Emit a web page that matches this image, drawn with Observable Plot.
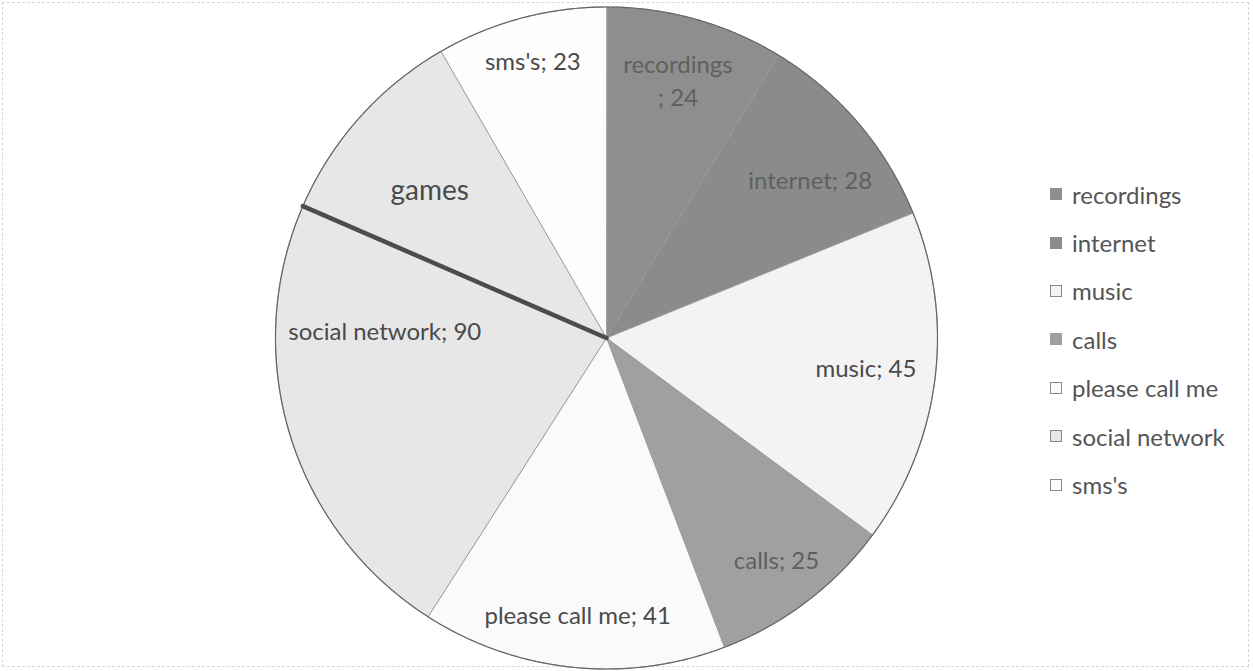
<!DOCTYPE html>
<html>
<head>
<meta charset="utf-8">
<script src="https://cdn.jsdelivr.net/npm/d3@7"></script>
<script src="https://cdn.jsdelivr.net/npm/@observablehq/plot@0.6"></script>
<style>
  html, body { margin: 0; padding: 0; background: #fff; }
  #wrap { position: relative; width: 1253px; height: 671px; overflow: hidden; font-family: Lato, "Open Sans", sans-serif; }
  #wrap svg { position: absolute; left: 0; top: 0; }
  #border { position: absolute; left: 2px; top: 2px; width: 1247px; height: 665px; border: 1px dashed #d6d6d6; box-sizing: border-box; }
  #legend { position: absolute; left: 1050px; top: 170px; }
  .item { height: 48.4px; display: flex; align-items: center; font-size: 24px; color: #555; white-space: nowrap; }
  .sw { width: 12px; height: 12px; border: 1px solid #8a8a8a; margin-right: 10px; flex: none; box-sizing: border-box; }
</style>
</head>
<body>
<div id="wrap"><div id="border"></div><div id="legend"></div></div>
<script>
// ---- data ----
const categories = ["recordings", "internet", "music", "calls", "please call me", "social network", "sms's"];
const values = [24, 28, 45, 25, 41, 90, 23];
// A hand-drawn line splits the end of the "social network" slice and marks it "games" (no value printed; estimated)
const splitLabel = "games";
const splitValue = 28;

// ---- styles / layout ----
const sliceColors = ["#8e8e8e", "#8b8b8b", "#f3f3f3", "#a0a0a0", "#fafafa", "#e7e7e7", "#fdfdfd"];
const darkSlices = new Set(["recordings", "internet", "calls"]);
const labelRadius = [0.80, 0.775, 0.79, 0.85, 0.85, 0.67, 0.86];
const labelAngleShift = [0, 3, 0, 0, 0, 0, 0]; // degrees, best-fit nudges
const splitLabelRadius = 0.69;
const splitLabelAngleShift = -2.5;

const data = categories.map((name, i) => ({name, value: values[i]}));
const arcs = d3.pie().sort(null).value(d => d.value)(data);

const pt = (a, r = 1) => [r * Math.sin(a), -r * Math.cos(a)];
const rad = deg => deg * Math.PI / 180;
function arcPoints(a0, a1) {
  const n = Math.max(2, Math.ceil((a1 - a0) / (Math.PI / 360)));
  return d3.range(n + 1).map(k => pt(a0 + (a1 - a0) * k / n));
}

const sliceFeatures = arcs.map(a => ({
  type: "Feature",
  properties: {name: a.data.name},
  geometry: {type: "Polygon", coordinates: [[[0, 0], ...arcPoints(a.startAngle, a.endAngle), [0, 0]]]}
}));

const rim = {type: "LineString", coordinates: arcPoints(0, 2 * Math.PI)};

const social = arcs.find(a => a.data.name === "social network");
const total = d3.sum(values);
const splitAngle = social.endAngle - splitValue / total * 2 * Math.PI;
const splitLine = {type: "LineString", coordinates: [[0, 0], pt(splitAngle)]};

const labels = arcs.map((a, i) => {
  const mid = (a.startAngle + a.endAngle) / 2 + rad(labelAngleShift[i]);
  const [x, y] = pt(mid, labelRadius[i]);
  const text = a.data.name === "recordings" ? `${a.data.name}\n; ${a.data.value}` : `${a.data.name}; ${a.data.value}`;
  return {x, y, text, dark: darkSlices.has(a.data.name)};
});
const splitMid = (splitAngle + social.endAngle) / 2 + rad(splitLabelAngleShift);
const [gx, gy] = pt(splitMid, splitLabelRadius);
const splitLabels = [{x: gx, y: gy, text: splitLabel}];

const plot = Plot.plot({
  width: 1253,
  height: 671,
  marginLeft: 275,
  marginRight: 316,
  marginTop: 6.5,
  marginBottom: 2.5,
  projection: {type: "identity", domain: {type: "MultiPoint", coordinates: [[-1, -1], [1, 1]]}, clip: false},
  color: {domain: categories, range: sliceColors},
  style: {fontFamily: "Lato, 'Open Sans', sans-serif", background: "transparent", overflow: "visible"},
  marks: [
    Plot.geo(sliceFeatures, {fill: d => d.properties.name, stroke: "#9a9a9a", strokeWidth: 1}),
    Plot.geo([rim], {stroke: "#666", strokeWidth: 1.2, fill: "none"}),
    Plot.geo([splitLine], {stroke: "#4c4c4c", strokeWidth: 4.5, fill: "none"}),
    Plot.text(labels.filter(d => !d.dark), {x: "x", y: "y", text: "text", fill: "#4a4a4a", fontSize: 24, lineHeight: 1.38, dy: -4}),
    Plot.text(labels.filter(d => d.dark), {x: "x", y: "y", text: "text", fill: "#606060", fontSize: 24, lineHeight: 1.38, dy: -4}),
    Plot.text(splitLabels, {x: "x", y: "y", text: "text", fill: "#4a4a4a", fontSize: 28, dy: -2})
  ]
});
document.getElementById("wrap").appendChild(plot);

// legend (HTML, from the same color scale)
const colorScale = Plot.scale({color: {domain: categories, range: sliceColors}});
const legend = document.getElementById("legend");
categories.forEach((c, i) => {
  const item = document.createElement("div");
  item.className = "item";
  const sw = document.createElement("span");
  sw.className = "sw";
  const col = colorScale.apply ? colorScale.apply(c) : sliceColors[i];
  sw.style.background = col;
  if (darkSlices.has(c)) sw.style.borderColor = col;
  const t = document.createElement("span");
  t.textContent = c;
  item.appendChild(sw);
  item.appendChild(t);
  legend.appendChild(item);
});
</script>
</body>
</html>
